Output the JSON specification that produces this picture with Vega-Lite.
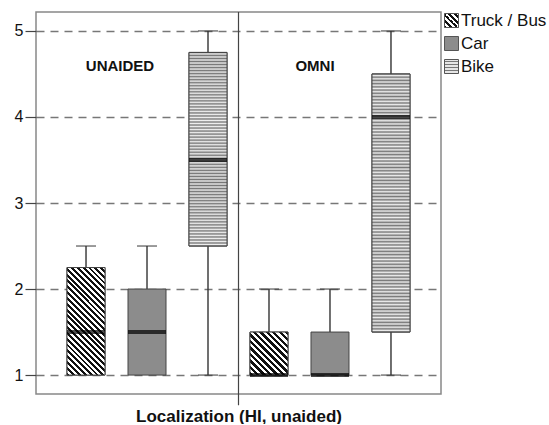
{
  "$schema": "https://vega.github.io/schema/vega-lite/v6.json",
  "width": 405,
  "height": 382,
  "padding": {"left": 14, "top": 11, "right": 0, "bottom": 0},
  "config": {
    "view": {"stroke": "#888", "strokeWidth": 1.5},
    "font": "Liberation Sans",
    "axisY": {"grid": true, "gridDash": [8, 6], "gridColor": "#777", "gridWidth": 1.5, "domain": false, "tickSize": 11, "tickColor": "#444", "tickWidth": 1.2, "labelPadding": 2, "labelFontSize": 16, "labelFont": "Liberation Sans", "labelColor": "#111"},
    "axisX": {"labels": false, "ticks": false, "domain": false, "grid": false, "titleFontSize": 17, "titleFontWeight": "bold", "titleFont": "Liberation Sans", "titleColor": "#111", "titlePadding": 14},
    "legend": {"orient": "right", "offset": 2, "padding": 0, "symbolType": "square", "symbolSize": 196, "symbolStrokeColor": "#555", "symbolStrokeWidth": 1, "labelFontSize": 17, "labelFont": "Liberation Sans", "labelColor": "#111", "labelOffset": 1, "rowPadding": 4}
  },
  "data": {"values": [
    {"key": "UNAIDED Truck / Bus", "panel": "UNAIDED", "vehicle": "Truck / Bus", "min": 1, "q1": 1, "median": 1.5, "q3": 2.25, "max": 2.5},
    {"key": "UNAIDED Car", "panel": "UNAIDED", "vehicle": "Car", "min": 1, "q1": 1, "median": 1.5, "q3": 2, "max": 2.5},
    {"key": "UNAIDED Bike", "panel": "UNAIDED", "vehicle": "Bike", "min": 1, "q1": 2.5, "median": 3.5, "q3": 4.75, "max": 5},
    {"key": "OMNI Truck / Bus", "panel": "OMNI", "vehicle": "Truck / Bus", "min": 1, "q1": 1, "median": 1, "q3": 1.5, "max": 2},
    {"key": "OMNI Car", "panel": "OMNI", "vehicle": "Car", "min": 1, "q1": 1, "median": 1, "q3": 1.5, "max": 2},
    {"key": "OMNI Bike", "panel": "OMNI", "vehicle": "Bike", "min": 1, "q1": 1.5, "median": 4, "q3": 4.5, "max": 5}
  ]},
  "encoding": {
    "x": {"field": "key", "type": "nominal", "sort": null, "scale": {"paddingInner": 0, "paddingOuter": 0.32}, "title": "Localization (HI, unaided)"}
  },
  "layer": [
    {
      "mark": {"type": "rule", "color": "#333", "strokeWidth": 1.4},
      "encoding": {
        "y": {"field": "min", "type": "quantitative", "scale": {"domain": [0.78, 5.22], "nice": false, "zero": false}, "title": null, "axis": {"values": [1, 2, 3, 4, 5], "format": "d"}},
        "y2": {"field": "max"}
      }
    },
    {
      "mark": {"type": "tick", "size": 20, "thickness": 1.4, "color": "#333"},
      "encoding": {
        "y": {"field": "max", "type": "quantitative", "scale": {"domain": [0.78, 5.22], "nice": false, "zero": false}, "title": null}
      }
    },
    {
      "transform": [{"filter": "datum.min < datum.q1"}],
      "mark": {"type": "tick", "size": 20, "thickness": 1.4, "color": "#333"},
      "encoding": {
        "y": {"field": "min", "type": "quantitative", "scale": {"domain": [0.78, 5.22], "nice": false, "zero": false}, "title": null}
      }
    },
    {
      "mark": {"type": "bar", "size": 38, "stroke": "#444", "strokeWidth": 1},
      "encoding": {
        "y": {"field": "q1", "type": "quantitative", "scale": {"domain": [0.78, 5.22], "nice": false, "zero": false}, "title": null},
        "y2": {"field": "q3"},
        "fill": {"field": "vehicle", "type": "nominal", "legend": {"title": null}, "scale": {"domain": ["Truck / Bus", "Car", "Bike"], "range": [
          {"expr": "{gradient:'linear',x1:0,y1:1,x2:1,y2:0,stops:[{offset:0,color:'#111'},{offset:0.1,color:'#111'},{offset:0.1,color:'#fff'},{offset:0.2,color:'#fff'},{offset:0.2,color:'#111'},{offset:0.3,color:'#111'},{offset:0.3,color:'#fff'},{offset:0.4,color:'#fff'},{offset:0.4,color:'#111'},{offset:0.5,color:'#111'},{offset:0.5,color:'#fff'},{offset:0.6,color:'#fff'},{offset:0.6,color:'#111'},{offset:0.7,color:'#111'},{offset:0.7,color:'#fff'},{offset:0.8,color:'#fff'},{offset:0.8,color:'#111'},{offset:0.9,color:'#111'},{offset:0.9,color:'#fff'},{offset:1,color:'#fff'}]}"},
          "#8c8c8c",
          {"expr": "{gradient:'linear',x1:0,y1:0,x2:0,y2:1,stops:[{offset:0,color:'#e6e6e6'},{offset:0.14,color:'#e6e6e6'},{offset:0.14,color:'#777'},{offset:0.2,color:'#777'},{offset:0.2,color:'#e6e6e6'},{offset:0.34,color:'#e6e6e6'},{offset:0.34,color:'#777'},{offset:0.4,color:'#777'},{offset:0.4,color:'#e6e6e6'},{offset:0.54,color:'#e6e6e6'},{offset:0.54,color:'#777'},{offset:0.6,color:'#777'},{offset:0.6,color:'#e6e6e6'},{offset:0.74,color:'#e6e6e6'},{offset:0.74,color:'#777'},{offset:0.8,color:'#777'},{offset:0.8,color:'#e6e6e6'},{offset:0.94,color:'#e6e6e6'},{offset:0.94,color:'#777'},{offset:1,color:'#777'}]}"}
        ]}}
      }
    },
    {
      "transform": [{"filter": "datum.key === 'UNAIDED Truck / Bus'"}],
      "mark": {"type": "bar", "size": 38, "stroke": "#444", "strokeWidth": 1, "fill": {"gradient": "linear", "x1": 0, "y1": 1, "x2": 0.4253, "y2": -0.2031, "stops": [
        {"offset": 0, "color": "#111"}, {"offset": 0.02, "color": "#111"}, {"offset": 0.02, "color": "#fff"}, {"offset": 0.04, "color": "#fff"},
        {"offset": 0.04, "color": "#111"}, {"offset": 0.06, "color": "#111"}, {"offset": 0.06, "color": "#fff"}, {"offset": 0.08, "color": "#fff"},
        {"offset": 0.08, "color": "#111"}, {"offset": 0.1, "color": "#111"}, {"offset": 0.1, "color": "#fff"}, {"offset": 0.12, "color": "#fff"},
        {"offset": 0.12, "color": "#111"}, {"offset": 0.14, "color": "#111"}, {"offset": 0.14, "color": "#fff"}, {"offset": 0.16, "color": "#fff"},
        {"offset": 0.16, "color": "#111"}, {"offset": 0.18, "color": "#111"}, {"offset": 0.18, "color": "#fff"}, {"offset": 0.2, "color": "#fff"},
        {"offset": 0.2, "color": "#111"}, {"offset": 0.22, "color": "#111"}, {"offset": 0.22, "color": "#fff"}, {"offset": 0.24, "color": "#fff"},
        {"offset": 0.24, "color": "#111"}, {"offset": 0.26, "color": "#111"}, {"offset": 0.26, "color": "#fff"}, {"offset": 0.28, "color": "#fff"},
        {"offset": 0.28, "color": "#111"}, {"offset": 0.3, "color": "#111"}, {"offset": 0.3, "color": "#fff"}, {"offset": 0.32, "color": "#fff"},
        {"offset": 0.32, "color": "#111"}, {"offset": 0.34, "color": "#111"}, {"offset": 0.34, "color": "#fff"}, {"offset": 0.36, "color": "#fff"},
        {"offset": 0.36, "color": "#111"}, {"offset": 0.38, "color": "#111"}, {"offset": 0.38, "color": "#fff"}, {"offset": 0.4, "color": "#fff"},
        {"offset": 0.4, "color": "#111"}, {"offset": 0.42, "color": "#111"}, {"offset": 0.42, "color": "#fff"}, {"offset": 0.44, "color": "#fff"},
        {"offset": 0.44, "color": "#111"}, {"offset": 0.46, "color": "#111"}, {"offset": 0.46, "color": "#fff"}, {"offset": 0.48, "color": "#fff"},
        {"offset": 0.48, "color": "#111"}, {"offset": 0.5, "color": "#111"}, {"offset": 0.5, "color": "#fff"}, {"offset": 0.52, "color": "#fff"},
        {"offset": 0.52, "color": "#111"}, {"offset": 0.54, "color": "#111"}, {"offset": 0.54, "color": "#fff"}, {"offset": 0.56, "color": "#fff"},
        {"offset": 0.56, "color": "#111"}, {"offset": 0.58, "color": "#111"}, {"offset": 0.58, "color": "#fff"}, {"offset": 0.6, "color": "#fff"},
        {"offset": 0.6, "color": "#111"}, {"offset": 0.62, "color": "#111"}, {"offset": 0.62, "color": "#fff"}, {"offset": 0.64, "color": "#fff"},
        {"offset": 0.64, "color": "#111"}, {"offset": 0.66, "color": "#111"}, {"offset": 0.66, "color": "#fff"}, {"offset": 0.68, "color": "#fff"},
        {"offset": 0.68, "color": "#111"}, {"offset": 0.7, "color": "#111"}, {"offset": 0.7, "color": "#fff"}, {"offset": 0.72, "color": "#fff"},
        {"offset": 0.72, "color": "#111"}, {"offset": 0.74, "color": "#111"}, {"offset": 0.74, "color": "#fff"}, {"offset": 0.76, "color": "#fff"},
        {"offset": 0.76, "color": "#111"}, {"offset": 0.78, "color": "#111"}, {"offset": 0.78, "color": "#fff"}, {"offset": 0.8, "color": "#fff"},
        {"offset": 0.8, "color": "#111"}, {"offset": 0.82, "color": "#111"}, {"offset": 0.82, "color": "#fff"}, {"offset": 0.84, "color": "#fff"},
        {"offset": 0.84, "color": "#111"}, {"offset": 0.86, "color": "#111"}, {"offset": 0.86, "color": "#fff"}, {"offset": 0.88, "color": "#fff"},
        {"offset": 0.88, "color": "#111"}, {"offset": 0.9, "color": "#111"}, {"offset": 0.9, "color": "#fff"}, {"offset": 0.92, "color": "#fff"},
        {"offset": 0.92, "color": "#111"}, {"offset": 0.94, "color": "#111"}, {"offset": 0.94, "color": "#fff"}, {"offset": 0.96, "color": "#fff"},
        {"offset": 0.96, "color": "#111"}, {"offset": 0.98, "color": "#111"}, {"offset": 0.98, "color": "#fff"}, {"offset": 1, "color": "#fff"}
      ]}},
      "encoding": {
        "y": {"field": "q1", "type": "quantitative", "scale": {"domain": [0.78, 5.22], "nice": false, "zero": false}, "title": null},
        "y2": {"field": "q3"}
      }
    },
    {
      "transform": [{"filter": "datum.key === 'OMNI Truck / Bus'"}],
      "mark": {"type": "bar", "size": 38, "stroke": "#444", "strokeWidth": 1, "fill": {"gradient": "linear", "x1": 0, "y1": 1, "x2": 0.9347, "y2": -0.0577, "stops": [
        {"offset": 0, "color": "#111"}, {"offset": 0.04, "color": "#111"}, {"offset": 0.04, "color": "#fff"}, {"offset": 0.08, "color": "#fff"},
        {"offset": 0.08, "color": "#111"}, {"offset": 0.12, "color": "#111"}, {"offset": 0.12, "color": "#fff"}, {"offset": 0.16, "color": "#fff"},
        {"offset": 0.16, "color": "#111"}, {"offset": 0.2, "color": "#111"}, {"offset": 0.2, "color": "#fff"}, {"offset": 0.24, "color": "#fff"},
        {"offset": 0.24, "color": "#111"}, {"offset": 0.28, "color": "#111"}, {"offset": 0.28, "color": "#fff"}, {"offset": 0.32, "color": "#fff"},
        {"offset": 0.32, "color": "#111"}, {"offset": 0.36, "color": "#111"}, {"offset": 0.36, "color": "#fff"}, {"offset": 0.4, "color": "#fff"},
        {"offset": 0.4, "color": "#111"}, {"offset": 0.44, "color": "#111"}, {"offset": 0.44, "color": "#fff"}, {"offset": 0.48, "color": "#fff"},
        {"offset": 0.48, "color": "#111"}, {"offset": 0.52, "color": "#111"}, {"offset": 0.52, "color": "#fff"}, {"offset": 0.56, "color": "#fff"},
        {"offset": 0.56, "color": "#111"}, {"offset": 0.6, "color": "#111"}, {"offset": 0.6, "color": "#fff"}, {"offset": 0.64, "color": "#fff"},
        {"offset": 0.64, "color": "#111"}, {"offset": 0.68, "color": "#111"}, {"offset": 0.68, "color": "#fff"}, {"offset": 0.72, "color": "#fff"},
        {"offset": 0.72, "color": "#111"}, {"offset": 0.76, "color": "#111"}, {"offset": 0.76, "color": "#fff"}, {"offset": 0.8, "color": "#fff"},
        {"offset": 0.8, "color": "#111"}, {"offset": 0.84, "color": "#111"}, {"offset": 0.84, "color": "#fff"}, {"offset": 0.88, "color": "#fff"},
        {"offset": 0.88, "color": "#111"}, {"offset": 0.92, "color": "#111"}, {"offset": 0.92, "color": "#fff"}, {"offset": 0.96, "color": "#fff"},
        {"offset": 0.96, "color": "#111"}, {"offset": 1, "color": "#111"}
      ]}},
      "encoding": {
        "y": {"field": "q1", "type": "quantitative", "scale": {"domain": [0.78, 5.22], "nice": false, "zero": false}, "title": null},
        "y2": {"field": "q3"}
      }
    },
    {
      "transform": [{"filter": "datum.key === 'UNAIDED Bike'"}],
      "mark": {"type": "bar", "size": 38, "stroke": "#444", "strokeWidth": 1, "fill": {"gradient": "linear", "x1": 0, "y1": 0, "x2": 0, "y2": 1, "stops": [
        {"offset": 0, "color": "#777"}, {"offset": 0.0078, "color": "#eee"}, {"offset": 0.0156, "color": "#777"}, {"offset": 0.0234, "color": "#eee"},
        {"offset": 0.0313, "color": "#777"}, {"offset": 0.0391, "color": "#eee"}, {"offset": 0.0469, "color": "#777"}, {"offset": 0.0547, "color": "#eee"},
        {"offset": 0.0625, "color": "#777"}, {"offset": 0.0703, "color": "#eee"}, {"offset": 0.0781, "color": "#777"}, {"offset": 0.0859, "color": "#eee"},
        {"offset": 0.0938, "color": "#777"}, {"offset": 0.1016, "color": "#eee"}, {"offset": 0.1094, "color": "#777"}, {"offset": 0.1172, "color": "#eee"},
        {"offset": 0.125, "color": "#777"}, {"offset": 0.1328, "color": "#eee"}, {"offset": 0.1406, "color": "#777"}, {"offset": 0.1484, "color": "#eee"},
        {"offset": 0.1563, "color": "#777"}, {"offset": 0.1641, "color": "#eee"}, {"offset": 0.1719, "color": "#777"}, {"offset": 0.1797, "color": "#eee"},
        {"offset": 0.1875, "color": "#777"}, {"offset": 0.1953, "color": "#eee"}, {"offset": 0.2031, "color": "#777"}, {"offset": 0.2109, "color": "#eee"},
        {"offset": 0.2188, "color": "#777"}, {"offset": 0.2266, "color": "#eee"}, {"offset": 0.2344, "color": "#777"}, {"offset": 0.2422, "color": "#eee"},
        {"offset": 0.25, "color": "#777"}, {"offset": 0.2578, "color": "#eee"}, {"offset": 0.2656, "color": "#777"}, {"offset": 0.2734, "color": "#eee"},
        {"offset": 0.2813, "color": "#777"}, {"offset": 0.2891, "color": "#eee"}, {"offset": 0.2969, "color": "#777"}, {"offset": 0.3047, "color": "#eee"},
        {"offset": 0.3125, "color": "#777"}, {"offset": 0.3203, "color": "#eee"}, {"offset": 0.3281, "color": "#777"}, {"offset": 0.3359, "color": "#eee"},
        {"offset": 0.3438, "color": "#777"}, {"offset": 0.3516, "color": "#eee"}, {"offset": 0.3594, "color": "#777"}, {"offset": 0.3672, "color": "#eee"},
        {"offset": 0.375, "color": "#777"}, {"offset": 0.3828, "color": "#eee"}, {"offset": 0.3906, "color": "#777"}, {"offset": 0.3984, "color": "#eee"},
        {"offset": 0.4063, "color": "#777"}, {"offset": 0.4141, "color": "#eee"}, {"offset": 0.4219, "color": "#777"}, {"offset": 0.4297, "color": "#eee"},
        {"offset": 0.4375, "color": "#777"}, {"offset": 0.4453, "color": "#eee"}, {"offset": 0.4531, "color": "#777"}, {"offset": 0.4609, "color": "#eee"},
        {"offset": 0.4688, "color": "#777"}, {"offset": 0.4766, "color": "#eee"}, {"offset": 0.4844, "color": "#777"}, {"offset": 0.4922, "color": "#eee"},
        {"offset": 0.5, "color": "#777"}, {"offset": 0.5078, "color": "#eee"}, {"offset": 0.5156, "color": "#777"}, {"offset": 0.5234, "color": "#eee"},
        {"offset": 0.5313, "color": "#777"}, {"offset": 0.5391, "color": "#eee"}, {"offset": 0.5469, "color": "#777"}, {"offset": 0.5547, "color": "#eee"},
        {"offset": 0.5625, "color": "#777"}, {"offset": 0.5703, "color": "#eee"}, {"offset": 0.5781, "color": "#777"}, {"offset": 0.5859, "color": "#eee"},
        {"offset": 0.5938, "color": "#777"}, {"offset": 0.6016, "color": "#eee"}, {"offset": 0.6094, "color": "#777"}, {"offset": 0.6172, "color": "#eee"},
        {"offset": 0.625, "color": "#777"}, {"offset": 0.6328, "color": "#eee"}, {"offset": 0.6406, "color": "#777"}, {"offset": 0.6484, "color": "#eee"},
        {"offset": 0.6563, "color": "#777"}, {"offset": 0.6641, "color": "#eee"}, {"offset": 0.6719, "color": "#777"}, {"offset": 0.6797, "color": "#eee"},
        {"offset": 0.6875, "color": "#777"}, {"offset": 0.6953, "color": "#eee"}, {"offset": 0.7031, "color": "#777"}, {"offset": 0.7109, "color": "#eee"},
        {"offset": 0.7188, "color": "#777"}, {"offset": 0.7266, "color": "#eee"}, {"offset": 0.7344, "color": "#777"}, {"offset": 0.7422, "color": "#eee"},
        {"offset": 0.75, "color": "#777"}, {"offset": 0.7578, "color": "#eee"}, {"offset": 0.7656, "color": "#777"}, {"offset": 0.7734, "color": "#eee"},
        {"offset": 0.7813, "color": "#777"}, {"offset": 0.7891, "color": "#eee"}, {"offset": 0.7969, "color": "#777"}, {"offset": 0.8047, "color": "#eee"},
        {"offset": 0.8125, "color": "#777"}, {"offset": 0.8203, "color": "#eee"}, {"offset": 0.8281, "color": "#777"}, {"offset": 0.8359, "color": "#eee"},
        {"offset": 0.8438, "color": "#777"}, {"offset": 0.8516, "color": "#eee"}, {"offset": 0.8594, "color": "#777"}, {"offset": 0.8672, "color": "#eee"},
        {"offset": 0.875, "color": "#777"}, {"offset": 0.8828, "color": "#eee"}, {"offset": 0.8906, "color": "#777"}, {"offset": 0.8984, "color": "#eee"},
        {"offset": 0.9063, "color": "#777"}, {"offset": 0.9141, "color": "#eee"}, {"offset": 0.9219, "color": "#777"}, {"offset": 0.9297, "color": "#eee"},
        {"offset": 0.9375, "color": "#777"}, {"offset": 0.9453, "color": "#eee"}, {"offset": 0.9531, "color": "#777"}, {"offset": 0.9609, "color": "#eee"},
        {"offset": 0.9688, "color": "#777"}, {"offset": 0.9766, "color": "#eee"}, {"offset": 0.9844, "color": "#777"}, {"offset": 0.9922, "color": "#eee"},
        {"offset": 1, "color": "#777"}
      ]}},
      "encoding": {
        "y": {"field": "q1", "type": "quantitative", "scale": {"domain": [0.78, 5.22], "nice": false, "zero": false}, "title": null},
        "y2": {"field": "q3"}
      }
    },
    {
      "transform": [{"filter": "datum.key === 'OMNI Bike'"}],
      "mark": {"type": "bar", "size": 38, "stroke": "#444", "strokeWidth": 1, "fill": {"gradient": "linear", "x1": 0, "y1": 0, "x2": 0, "y2": 1, "stops": [
        {"offset": 0, "color": "#777"}, {"offset": 0.00625, "color": "#eee"}, {"offset": 0.0125, "color": "#777"}, {"offset": 0.01875, "color": "#eee"},
        {"offset": 0.025, "color": "#777"}, {"offset": 0.03125, "color": "#eee"}, {"offset": 0.0375, "color": "#777"}, {"offset": 0.04375, "color": "#eee"},
        {"offset": 0.05, "color": "#777"}, {"offset": 0.05625, "color": "#eee"}, {"offset": 0.0625, "color": "#777"}, {"offset": 0.06875, "color": "#eee"},
        {"offset": 0.075, "color": "#777"}, {"offset": 0.08125, "color": "#eee"}, {"offset": 0.0875, "color": "#777"}, {"offset": 0.09375, "color": "#eee"},
        {"offset": 0.1, "color": "#777"}, {"offset": 0.10625, "color": "#eee"}, {"offset": 0.1125, "color": "#777"}, {"offset": 0.11875, "color": "#eee"},
        {"offset": 0.125, "color": "#777"}, {"offset": 0.13125, "color": "#eee"}, {"offset": 0.1375, "color": "#777"}, {"offset": 0.14375, "color": "#eee"},
        {"offset": 0.15, "color": "#777"}, {"offset": 0.15625, "color": "#eee"}, {"offset": 0.1625, "color": "#777"}, {"offset": 0.16875, "color": "#eee"},
        {"offset": 0.175, "color": "#777"}, {"offset": 0.18125, "color": "#eee"}, {"offset": 0.1875, "color": "#777"}, {"offset": 0.19375, "color": "#eee"},
        {"offset": 0.2, "color": "#777"}, {"offset": 0.20625, "color": "#eee"}, {"offset": 0.2125, "color": "#777"}, {"offset": 0.21875, "color": "#eee"},
        {"offset": 0.225, "color": "#777"}, {"offset": 0.23125, "color": "#eee"}, {"offset": 0.2375, "color": "#777"}, {"offset": 0.24375, "color": "#eee"},
        {"offset": 0.25, "color": "#777"}, {"offset": 0.25625, "color": "#eee"}, {"offset": 0.2625, "color": "#777"}, {"offset": 0.26875, "color": "#eee"},
        {"offset": 0.275, "color": "#777"}, {"offset": 0.28125, "color": "#eee"}, {"offset": 0.2875, "color": "#777"}, {"offset": 0.29375, "color": "#eee"},
        {"offset": 0.3, "color": "#777"}, {"offset": 0.30625, "color": "#eee"}, {"offset": 0.3125, "color": "#777"}, {"offset": 0.31875, "color": "#eee"},
        {"offset": 0.325, "color": "#777"}, {"offset": 0.33125, "color": "#eee"}, {"offset": 0.3375, "color": "#777"}, {"offset": 0.34375, "color": "#eee"},
        {"offset": 0.35, "color": "#777"}, {"offset": 0.35625, "color": "#eee"}, {"offset": 0.3625, "color": "#777"}, {"offset": 0.36875, "color": "#eee"},
        {"offset": 0.375, "color": "#777"}, {"offset": 0.38125, "color": "#eee"}, {"offset": 0.3875, "color": "#777"}, {"offset": 0.39375, "color": "#eee"},
        {"offset": 0.4, "color": "#777"}, {"offset": 0.40625, "color": "#eee"}, {"offset": 0.4125, "color": "#777"}, {"offset": 0.41875, "color": "#eee"},
        {"offset": 0.425, "color": "#777"}, {"offset": 0.43125, "color": "#eee"}, {"offset": 0.4375, "color": "#777"}, {"offset": 0.44375, "color": "#eee"},
        {"offset": 0.45, "color": "#777"}, {"offset": 0.45625, "color": "#eee"}, {"offset": 0.4625, "color": "#777"}, {"offset": 0.46875, "color": "#eee"},
        {"offset": 0.475, "color": "#777"}, {"offset": 0.48125, "color": "#eee"}, {"offset": 0.4875, "color": "#777"}, {"offset": 0.49375, "color": "#eee"},
        {"offset": 0.5, "color": "#777"}, {"offset": 0.50625, "color": "#eee"}, {"offset": 0.5125, "color": "#777"}, {"offset": 0.51875, "color": "#eee"},
        {"offset": 0.525, "color": "#777"}, {"offset": 0.53125, "color": "#eee"}, {"offset": 0.5375, "color": "#777"}, {"offset": 0.54375, "color": "#eee"},
        {"offset": 0.55, "color": "#777"}, {"offset": 0.55625, "color": "#eee"}, {"offset": 0.5625, "color": "#777"}, {"offset": 0.56875, "color": "#eee"},
        {"offset": 0.575, "color": "#777"}, {"offset": 0.58125, "color": "#eee"}, {"offset": 0.5875, "color": "#777"}, {"offset": 0.59375, "color": "#eee"},
        {"offset": 0.6, "color": "#777"}, {"offset": 0.60625, "color": "#eee"}, {"offset": 0.6125, "color": "#777"}, {"offset": 0.61875, "color": "#eee"},
        {"offset": 0.625, "color": "#777"}, {"offset": 0.63125, "color": "#eee"}, {"offset": 0.6375, "color": "#777"}, {"offset": 0.64375, "color": "#eee"},
        {"offset": 0.65, "color": "#777"}, {"offset": 0.65625, "color": "#eee"}, {"offset": 0.6625, "color": "#777"}, {"offset": 0.66875, "color": "#eee"},
        {"offset": 0.675, "color": "#777"}, {"offset": 0.68125, "color": "#eee"}, {"offset": 0.6875, "color": "#777"}, {"offset": 0.69375, "color": "#eee"},
        {"offset": 0.7, "color": "#777"}, {"offset": 0.70625, "color": "#eee"}, {"offset": 0.7125, "color": "#777"}, {"offset": 0.71875, "color": "#eee"},
        {"offset": 0.725, "color": "#777"}, {"offset": 0.73125, "color": "#eee"}, {"offset": 0.7375, "color": "#777"}, {"offset": 0.74375, "color": "#eee"},
        {"offset": 0.75, "color": "#777"}, {"offset": 0.75625, "color": "#eee"}, {"offset": 0.7625, "color": "#777"}, {"offset": 0.76875, "color": "#eee"},
        {"offset": 0.775, "color": "#777"}, {"offset": 0.78125, "color": "#eee"}, {"offset": 0.7875, "color": "#777"}, {"offset": 0.79375, "color": "#eee"},
        {"offset": 0.8, "color": "#777"}, {"offset": 0.80625, "color": "#eee"}, {"offset": 0.8125, "color": "#777"}, {"offset": 0.81875, "color": "#eee"},
        {"offset": 0.825, "color": "#777"}, {"offset": 0.83125, "color": "#eee"}, {"offset": 0.8375, "color": "#777"}, {"offset": 0.84375, "color": "#eee"},
        {"offset": 0.85, "color": "#777"}, {"offset": 0.85625, "color": "#eee"}, {"offset": 0.8625, "color": "#777"}, {"offset": 0.86875, "color": "#eee"},
        {"offset": 0.875, "color": "#777"}, {"offset": 0.88125, "color": "#eee"}, {"offset": 0.8875, "color": "#777"}, {"offset": 0.89375, "color": "#eee"},
        {"offset": 0.9, "color": "#777"}, {"offset": 0.90625, "color": "#eee"}, {"offset": 0.9125, "color": "#777"}, {"offset": 0.91875, "color": "#eee"},
        {"offset": 0.925, "color": "#777"}, {"offset": 0.93125, "color": "#eee"}, {"offset": 0.9375, "color": "#777"}, {"offset": 0.94375, "color": "#eee"},
        {"offset": 0.95, "color": "#777"}, {"offset": 0.95625, "color": "#eee"}, {"offset": 0.9625, "color": "#777"}, {"offset": 0.96875, "color": "#eee"},
        {"offset": 0.975, "color": "#777"}, {"offset": 0.98125, "color": "#eee"}, {"offset": 0.9875, "color": "#777"}, {"offset": 0.99375, "color": "#eee"},
        {"offset": 1, "color": "#777"}
      ]}},
      "encoding": {
        "y": {"field": "q1", "type": "quantitative", "scale": {"domain": [0.78, 5.22], "nice": false, "zero": false}, "title": null},
        "y2": {"field": "q3"}
      }
    },
    {
      "mark": {"type": "tick", "size": 38, "thickness": 4, "color": "#000"},
      "encoding": {
        "y": {"field": "median", "type": "quantitative", "scale": {"domain": [0.78, 5.22], "nice": false, "zero": false}, "title": null}
      }
    },
    {
      "data": {"values": [{"label": "UNAIDED"}]},
      "mark": {"type": "text", "fontSize": 15, "fontWeight": "bold", "font": "Liberation Sans", "color": "#111", "align": "center", "baseline": "middle"},
      "encoding": {
        "x": {"datum": "UNAIDED Car", "type": "nominal", "bandPosition": 0.057, "title": "Localization (HI, unaided)"},
        "y": {"datum": 4.59, "type": "quantitative", "scale": {"domain": [0.78, 5.22], "nice": false, "zero": false}, "title": null},
        "text": {"field": "label"}
      }
    },
    {
      "data": {"values": [{"label": "OMNI"}]},
      "mark": {"type": "text", "fontSize": 15, "fontWeight": "bold", "font": "Liberation Sans", "color": "#111", "align": "center", "baseline": "middle"},
      "encoding": {
        "x": {"datum": "OMNI Car", "type": "nominal", "bandPosition": 0.254, "title": "Localization (HI, unaided)"},
        "y": {"datum": 4.59, "type": "quantitative", "scale": {"domain": [0.78, 5.22], "nice": false, "zero": false}, "title": null},
        "text": {"field": "label"}
      }
    },
    {
      "data": {"values": [{"label": "divider"}]},
      "mark": {"type": "rule", "color": "#444", "strokeWidth": 1.2},
      "encoding": {
        "x": {"datum": "UNAIDED Bike", "type": "nominal", "bandPosition": 1, "title": "Localization (HI, unaided)"},
        "y": {"datum": 5.22, "type": "quantitative", "scale": {"domain": [0.78, 5.22], "nice": false, "zero": false}, "title": null},
        "y2": {"datum": 0.65}
      }
    }
  ]
}
